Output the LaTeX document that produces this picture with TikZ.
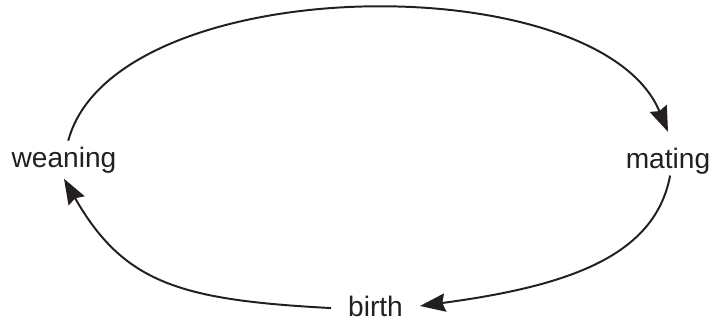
\documentclass[tikz,border=0pt]{standalone}
\usepackage{fontspec}
\setmainfont{Liberation Sans}
\usepackage{xcolor}
\usetikzlibrary{arrows.meta}
\definecolor{ink}{RGB}{35,31,32}

\begin{document}
\begin{tikzpicture}[
                x=0.025cm, y=-0.025cm,
                every node/.style={font=\fontsize{20}{24}\selectfont, text=ink},
                stage/.style={anchor=base, inner sep=4pt},
                cycle/.style={draw=ink, line width=1.4pt, -{Stealth[length=18pt, width=13pt, inset=2pt]}}
            ]
            \useasboundingbox (0,0) rectangle (714,322);
            % Nodes
            \node[stage] (weaning) at (64,167) {weaning};
            \node[stage] (mating) at (668,168) {mating};
            \node[stage, inner xsep=12pt, inner ysep=1pt] (birth) at (375.5,316) {birth};
            % Arrows
            \draw[cycle] ([xshift=3pt]weaning.north) .. controls +(46,-171) and +(-70,-168) .. ([yshift=7pt]mating.north);
            \draw[cycle] ([xshift=1.5pt, yshift=3pt]mating.south) .. controls +(-15,80) and +(150,-20) .. (birth.east);
            \draw[cycle] ([yshift=-1.5pt]birth.west) .. controls +(-150,-8) and +(60,105) .. (weaning.south);

            \end{tikzpicture}
\end{document}
